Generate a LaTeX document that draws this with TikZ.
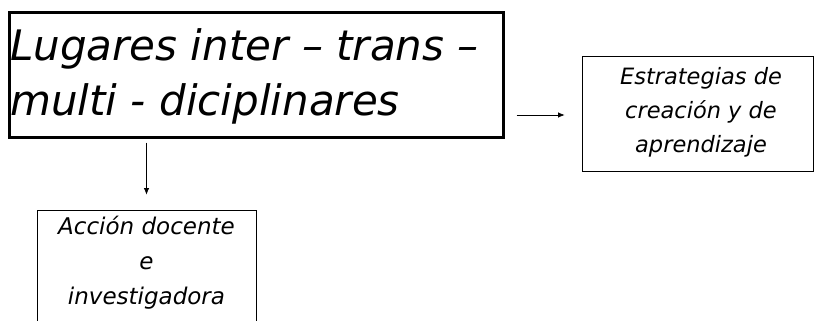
\documentclass[tikz,border=0pt]{standalone}
\usepackage{fontspec}
\setmainfont{DejaVu Sans}
\usetikzlibrary{arrows.meta}
\begin{document}
\begin{tikzpicture}[x=1pt,y=-1pt,
  bigbox/.style={draw,line width=3pt,minimum width=494pt,minimum height=125pt,inner sep=0pt},
  smallbox/.style={draw,line width=0.8pt,inner sep=0pt},
  arr/.style={-{Latex[length=6.5pt,width=5.5pt]},line width=0.7pt}]
\useasboundingbox (0,0) rectangle (815,321);
\clip (0,0) rectangle (815,321);
\node[bigbox] (main) at (256,75.5) {};
\node[anchor=west,align=left,inner sep=0pt,font=\fontsize{42}{55}\selectfont\itshape] (maintext) at (10,76)
  {Lugares inter – trans –\\multi - diciplinares};
\node[smallbox,minimum width=231pt,minimum height=115pt] (right) at (697.5,113.5) {};
\node[align=center,inner sep=0pt,font=\fontsize{22.5}{34}\selectfont\itshape] (righttext) at (701,112)
  {Estrategias de\\creación y de\\aprendizaje};
\node[smallbox,minimum width=219pt,minimum height=150pt] (bot) at (146.5,285) {};
\node[align=center,anchor=north,inner sep=0pt,font=\fontsize{23}{35}\selectfont\itshape] (bottext) at (146.5,216)
  {Acción docente\\e\\investigadora};
\draw[arr] ([xshift=-65pt]right.west |- 0,115) -- ([xshift=-17pt]right.west |- 0,115);
\draw[arr] ([yshift=67pt]bot.north) -- ([yshift=15pt]bot.north);
\end{tikzpicture}
\end{document}
